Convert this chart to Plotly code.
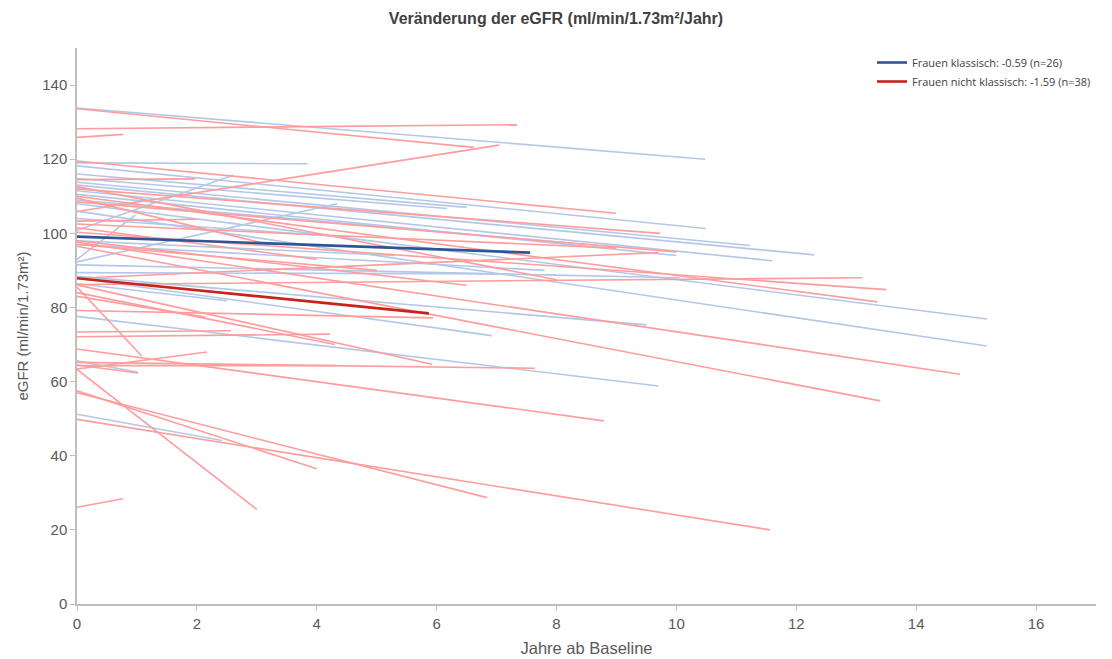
import plotly.graph_objects as go

# Individual courses: start eGFR at baseline (year 0), follow-up years, end eGFR
classic_start = [133.8, 119.0, 100.8, 93.0, 92.3, 118.2, 114.8, 113.8, 113.0, 111.5,
                 110.5, 108.0, 106.0, 91.5, 88.4, 87.9, 77.6, 65.6, 51.2, 86.4,
                 89.4, 98.0, 97.0, 116.0, 109.0, 104.0]
classic_years = [10.48, 3.85, 2.6, 0.97, 4.34, 10.49, 6.17, 11.23, 12.3, 11.6,
                 10.0, 15.18, 15.18, 10.05, 9.5, 6.92, 9.7, 1.02, 2.42, 2.5,
                 8.0, 5.3, 7.8, 6.5, 8.5, 4.5]
classic_end = [120.0, 118.8, 115.7, 104.9, 108.0, 101.3, 106.7, 96.7, 94.2, 92.6,
               94.0, 76.9, 69.6, 88.0, 75.3, 72.4, 58.8, 62.5, 44.1, 81.8,
               89.0, 94.0, 90.0, 107.0, 97.0, 99.0]

nonclassic_start = [133.6, 128.2, 125.9, 119.5, 114.5, 105.9, 103.3, 112.0, 87.9, 86.2,
                    100.3, 110.0, 97.6, 96.5, 68.8, 86.1, 64.3, 65.2, 85.5, 79.2,
                    83.0, 73.4, 72.1, 64.5, 63.4, 63.3, 57.5, 57.0, 49.8, 26.1,
                    112.6, 109.5, 101.5, 98.0, 102.5, 108.5, 97.0, 84.0]
nonclassic_years = [6.62, 7.34, 0.77, 8.99, 1.97, 7.04, 1.98, 9.73, 9.7, 13.1,
                    13.5, 13.35, 14.73, 13.4, 8.79, 5.92, 4.34, 7.64, 1.08, 5.94,
                    2.14, 2.57, 4.22, 1.02, 2.17, 3.0, 4.0, 6.84, 11.56, 0.77,
                    8.0, 3.2, 4.0, 6.5, 9.0, 10.0, 5.0, 4.3]
nonclassic_end = [123.2, 129.3, 126.7, 105.4, 114.7, 123.8, 103.8, 100.0, 94.8, 88.0,
                  84.8, 81.5, 62.0, 54.8, 49.4, 64.7, 64.3, 63.6, 66.9, 77.2,
                  77.4, 73.7, 72.8, 62.3, 68.0, 25.5, 36.5, 28.7, 20.0, 28.4,
                  87.5, 97.0, 93.0, 86.0, 96.0, 95.0, 90.0, 70.0]

# Group mean slopes
mean_classic_x = [0, 7.56]
mean_classic_y = [99.1, 94.8]
mean_nonclassic_x = [0, 5.87]
mean_nonclassic_y = [87.9, 78.4]

legend_classic = "Frauen klassisch: -0.59 (n=26)"
legend_nonclassic = "Frauen nicht klassisch: -1.59 (n=38)"


def segments(starts, years, ends):
    xs, ys = [], []
    for s, t, e in zip(starts, years, ends):
        xs += [0, t, None]
        ys += [s, e, None]
    return xs, ys


fig = go.Figure()

cx, cy = segments(classic_start, classic_years, classic_end)
nx, ny = segments(nonclassic_start, nonclassic_years, nonclassic_end)

fig.add_trace(go.Scatter(x=cx, y=cy, mode="lines", line=dict(color="#b4c7e7", width=1.6),
                         showlegend=False, hoverinfo="skip"))
fig.add_trace(go.Scatter(x=nx, y=ny, mode="lines", line=dict(color="#ff9c9c", width=1.6),
                         showlegend=False, hoverinfo="skip"))
fig.add_trace(go.Scatter(x=mean_classic_x, y=mean_classic_y, mode="lines",
                         line=dict(color="#2f5597", width=2.6), name=legend_classic))
fig.add_trace(go.Scatter(x=mean_nonclassic_x, y=mean_nonclassic_y, mode="lines",
                         line=dict(color="#c9211e", width=2.6), name=legend_nonclassic))

axis_font = dict(family="Liberation Sans, Arial, sans-serif", size=15, color="#595959")
xtitle_font = dict(family="Liberation Sans, Arial, sans-serif", size=16.5, color="#595959")

fig.update_layout(
    width=1112, height=659,
    margin=dict(l=77, r=16, t=48, b=55),
    paper_bgcolor="white", plot_bgcolor="white",
    title=dict(text="<b>Veränderung der eGFR (ml/min/1.73m²/Jahr)</b>",
               x=0.5, xanchor="center", y=0.972, yanchor="middle",
               font=dict(family="Liberation Sans, Arial, sans-serif", size=16, color="#404040")),
    legend=dict(x=1.0, xanchor="right", y=1.0, yanchor="top",
                font=dict(family="Open Sans, sans-serif", size=11, color="#404040"),
                bgcolor="rgba(0,0,0,0)", tracegroupgap=6, itemwidth=30),
    xaxis=dict(range=[0, 17], dtick=2, tick0=0, showgrid=False, zeroline=False,
               showline=True, linecolor="#bfbfbf", linewidth=1.5,
               ticks="outside", ticklen=5, tickcolor="#bfbfbf",
               tickfont=axis_font, automargin=False,
               title=dict(text="Jahre ab Baseline", font=xtitle_font, standoff=12)),
    yaxis=dict(range=[0, 150], dtick=20, tick0=0, showgrid=False, zeroline=False,
               showline=True, linecolor="#bfbfbf", linewidth=1.5,
               ticks="outside", ticklen=5, tickcolor="#bfbfbf",
               tickvals=[0, 20, 40, 60, 80, 100, 120, 140],
               tickfont=axis_font, automargin=False,
               title=dict(text="eGFR (ml/min/1.73m²)", font=axis_font, standoff=10)),
)

fig.write_html("out.html")
